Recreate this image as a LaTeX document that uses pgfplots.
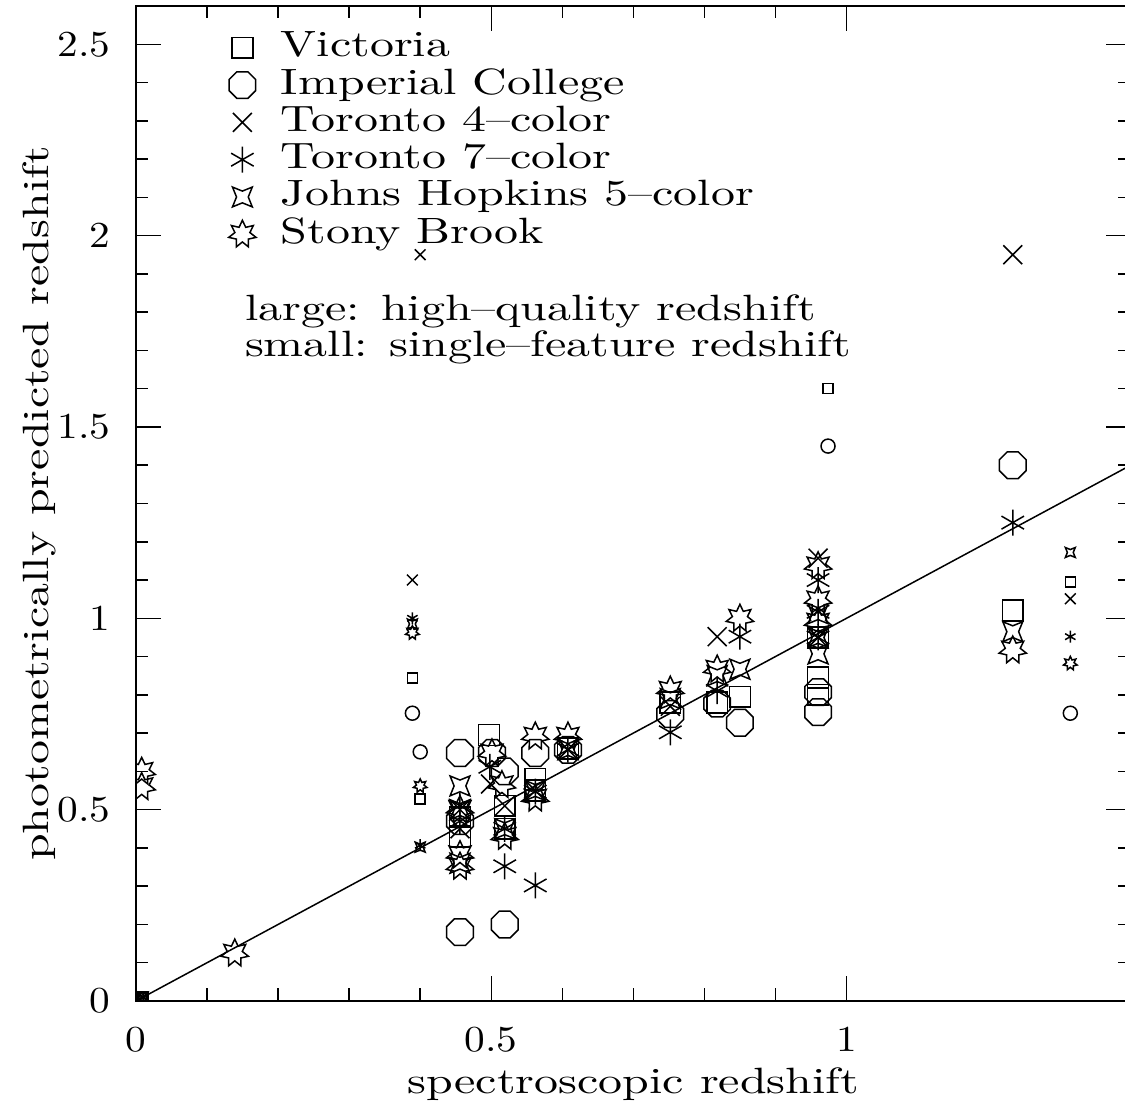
\documentclass[border=0pt]{standalone}
\usepackage{fontspec}
\setmainfont{lmroman10-regular.otf}[FakeStretch=1.31]
\newfontfamily\tickfont{lmroman10-regular.otf}[FakeStretch=1.13]
\usepackage{pgfplots}
\pgfplotsset{compat=1.18}

\pgfdeclareplotmark{octagon}{%
  \pgfpathmoveto{\pgfpointpolar{22.5}{\pgfplotmarksize}}%
  \pgfpathlineto{\pgfpointpolar{67.5}{\pgfplotmarksize}}%
  \pgfpathlineto{\pgfpointpolar{112.5}{\pgfplotmarksize}}%
  \pgfpathlineto{\pgfpointpolar{157.5}{\pgfplotmarksize}}%
  \pgfpathlineto{\pgfpointpolar{202.5}{\pgfplotmarksize}}%
  \pgfpathlineto{\pgfpointpolar{247.5}{\pgfplotmarksize}}%
  \pgfpathlineto{\pgfpointpolar{292.5}{\pgfplotmarksize}}%
  \pgfpathlineto{\pgfpointpolar{337.5}{\pgfplotmarksize}}%
  \pgfpathclose\pgfusepathqstroke}
\pgfdeclareplotmark{fourstar}{%
  \pgfpathmoveto{\pgfpointpolar{45}{\pgfplotmarksize}}%
  \pgfpathlineto{\pgfpointpolar{90}{0.42\pgfplotmarksize}}%
  \pgfpathlineto{\pgfpointpolar{135}{\pgfplotmarksize}}%
  \pgfpathlineto{\pgfpointpolar{180}{0.42\pgfplotmarksize}}%
  \pgfpathlineto{\pgfpointpolar{225}{\pgfplotmarksize}}%
  \pgfpathlineto{\pgfpointpolar{270}{0.42\pgfplotmarksize}}%
  \pgfpathlineto{\pgfpointpolar{315}{\pgfplotmarksize}}%
  \pgfpathlineto{\pgfpointpolar{0}{0.42\pgfplotmarksize}}%
  \pgfpathclose\pgfusepathqstroke}
\pgfdeclareplotmark{sevenstar}{%
  \pgfpathmoveto{\pgfpointpolar{90}{\pgfplotmarksize}}%
  \pgfpathlineto{\pgfpointpolar{115.714}{0.55\pgfplotmarksize}}%
  \pgfpathlineto{\pgfpointpolar{141.429}{\pgfplotmarksize}}%
  \pgfpathlineto{\pgfpointpolar{167.143}{0.55\pgfplotmarksize}}%
  \pgfpathlineto{\pgfpointpolar{192.857}{\pgfplotmarksize}}%
  \pgfpathlineto{\pgfpointpolar{218.571}{0.55\pgfplotmarksize}}%
  \pgfpathlineto{\pgfpointpolar{244.286}{\pgfplotmarksize}}%
  \pgfpathlineto{\pgfpointpolar{270}{0.55\pgfplotmarksize}}%
  \pgfpathlineto{\pgfpointpolar{295.714}{\pgfplotmarksize}}%
  \pgfpathlineto{\pgfpointpolar{321.429}{0.55\pgfplotmarksize}}%
  \pgfpathlineto{\pgfpointpolar{347.143}{\pgfplotmarksize}}%
  \pgfpathlineto{\pgfpointpolar{12.857}{0.55\pgfplotmarksize}}%
  \pgfpathlineto{\pgfpointpolar{38.571}{\pgfplotmarksize}}%
  \pgfpathlineto{\pgfpointpolar{64.286}{0.55\pgfplotmarksize}}%
  \pgfpathclose\pgfusepathqstroke}

\pgfplotsset{
  mk/.style={only marks, black, line width=0.75pt, mark options={solid, line width=0.75pt}},
  V/.style={mk, mark=square, mark size=5.2pt},
  Vs/.style={mk, mark=square, mark size=2.5pt},
  IC/.style={mk, mark=octagon, mark size=7.2pt},
  ICs/.style={mk, mark=o, mark size=3.5pt},
  TF/.style={mk, mark=x, mark size=6.7pt},
  TFs/.style={mk, mark=x, mark size=3.8pt},
  TS/.style={mk, mark=asterisk, mark size=6.5pt},
  TSs/.style={mk, mark=asterisk, mark size=3pt},
  JH/.style={mk, mark=fourstar, mark size=7pt},
  JHs/.style={mk, mark=fourstar, mark size=3.5pt},
  SB/.style={mk, mark=sevenstar, mark size=7pt},
  SBs/.style={mk, mark=sevenstar, mark size=3.5pt},
}

\begin{document}
\begin{tikzpicture}[font=\fontsize{18.3}{22}\selectfont]
\begin{axis}[
  scale only axis, width=497.35pt, height=497.5pt,
  xmin=0, xmax=1.4, ymin=0, ymax=2.6,
  xtick={0,0.5,1}, ytick={0,0.5,1,1.5,2,2.5},
  minor x tick num=4, minor y tick num=4,
  tick align=inside, xtick pos=both, ytick pos=both,
  major tick length=12.5pt, minor tick length=6.25pt,
  axis line style={line width=1pt},
  every tick/.style={black, line width=0.75pt},
  clip marker paths=true,
  /pgf/number format/assume math mode=true,
  tick label style={font=\tickfont\fontsize{18.3}{22}\selectfont},
  xticklabel style={inner sep=0pt, anchor=north, yshift=-12.75pt},
  yticklabel style={inner sep=0pt, anchor=east, xshift=-12.5pt},
  label style={font=\fontsize{18.3}{22}\selectfont},
  xlabel={spectroscopic redshift},
  ylabel={photometrically predicted redshift},
  xlabel style={at={(axis description cs:0.5,-0.0925)}, anchor=base, inner sep=0pt},
  ylabel style={at={(axis description cs:-0.0975,0.5)}, anchor=center, inner sep=0pt},
  legend cell align=left,
  legend image code/.code={\path[draw=none, fill=none] (-10pt,-3pt) rectangle (10pt,12pt); \draw[#1, overlay] plot coordinates {(0pt,4.5pt)};},
  legend style={draw=none, fill=none, at={(axis cs:0.1216,2.530)}, anchor=north west,
    inner sep=0pt, outer sep=0pt, row sep=3.65pt, column sep=9.3pt,
    font=\fontsize{18.3}{22}\selectfont,
    nodes={inner sep=0pt, text height=12pt, text depth=3pt, anchor=base west}},
]
% large markers: high-quality redshifts
\addplot[V] coordinates {(0.456,0.48)(0.456,0.43)(0.497,0.695)(0.519,0.51)(0.519,0.45)(0.562,0.58)(0.562,0.55)(0.608,0.66)(0.752,0.78)(0.818,0.78)(0.85,0.795)(0.96,0.95)(0.96,0.845)(0.96,0.80)(1.234,1.02)};
\addlegendentry{Victoria}
\addplot[IC] coordinates {(0.456,0.648)(0.456,0.47)(0.456,0.18)(0.501,0.648)(0.519,0.60)(0.519,0.20)(0.562,0.648)(0.608,0.656)(0.752,0.75)(0.818,0.777)(0.85,0.727)(0.96,0.807)(0.96,0.755)(1.234,1.40)};
\addlegendentry{Imperial College}
\addplot[TF] coordinates {(0.456,0.50)(0.456,0.45)(0.499,0.567)(0.519,0.51)(0.562,0.55)(0.608,0.657)(0.752,0.77)(0.818,0.952)(0.96,1.157)(0.96,0.95)(1.234,1.95)};
\addlegendentry{Toronto 4--color}
\addplot[TS] coordinates {(0.456,0.51)(0.456,0.47)(0.498,0.612)(0.519,0.352)(0.519,0.45)(0.562,0.547)(0.562,0.302)(0.608,0.657)(0.752,0.702)(0.818,0.81)(0.85,0.952)(0.96,1.10)(0.96,1.017)(0.96,0.95)(1.234,1.25)};
\addlegendentry{Toronto 7--color}
\addplot[JH] coordinates {(0.456,0.562)(0.456,0.50)(0.456,0.36)(0.519,0.45)(0.562,0.55)(0.608,0.657)(0.752,0.79)(0.818,0.85)(0.85,0.867)(0.96,1.012)(0.96,0.95)(0.96,0.907)(1.234,0.965)};
\addlegendentry{Johns Hopkins 5--color}
\addplot[SB] coordinates {(0.008,0.60)(0.008,0.56)(0.139,0.125)(0.456,0.50)(0.456,0.382)(0.456,0.352)(0.501,0.648)(0.515,0.565)(0.519,0.43)(0.562,0.692)(0.562,0.53)(0.608,0.692)(0.752,0.812)(0.818,0.867)(0.85,1.0)(0.96,1.137)(0.96,1.048)(0.96,0.99)(1.234,0.917)};
\addlegendentry{Stony Brook}
% small markers: single-feature redshifts
\addplot[Vs, forget plot] coordinates {(0.01,0.01)(0.389,0.844)(0.40,0.528)(0.974,1.60)(1.315,1.095)};
\addplot[ICs, forget plot] coordinates {(0.389,0.752)(0.40,0.651)(0.974,1.45)(1.315,0.752)};
\addplot[TFs, forget plot] coordinates {(0.01,0.01)(0.389,1.10)(0.40,1.95)(1.315,1.051)};
\addplot[TSs, forget plot] coordinates {(0.01,0.01)(0.389,1.0)(0.40,0.407)(1.315,0.952)};
\addplot[JHs, forget plot] coordinates {(0.01,0.01)(0.389,0.985)(0.40,0.402)(1.315,1.172)};
\addplot[SBs, forget plot] coordinates {(0.389,0.962)(0.40,0.562)(1.315,0.882)};
% one-to-one line
\addplot[black, line width=0.75pt, forget plot] coordinates {(0,0)(1.4,1.4)};
\node[anchor=base west, inner sep=0pt] at (axis cs:0.153,1.779) {large: high--quality redshift};
\node[anchor=base west, inner sep=0pt] at (axis cs:0.153,1.684) {small: single--feature redshift};
\end{axis}
\pgfresetboundingbox
\path[use as bounding box] ([shift={(-68pt,-52.5pt)}]current axis.south west) rectangle ([shift={(-2.85pt,3pt)}]current axis.north east);
\end{tikzpicture}
\end{document}
